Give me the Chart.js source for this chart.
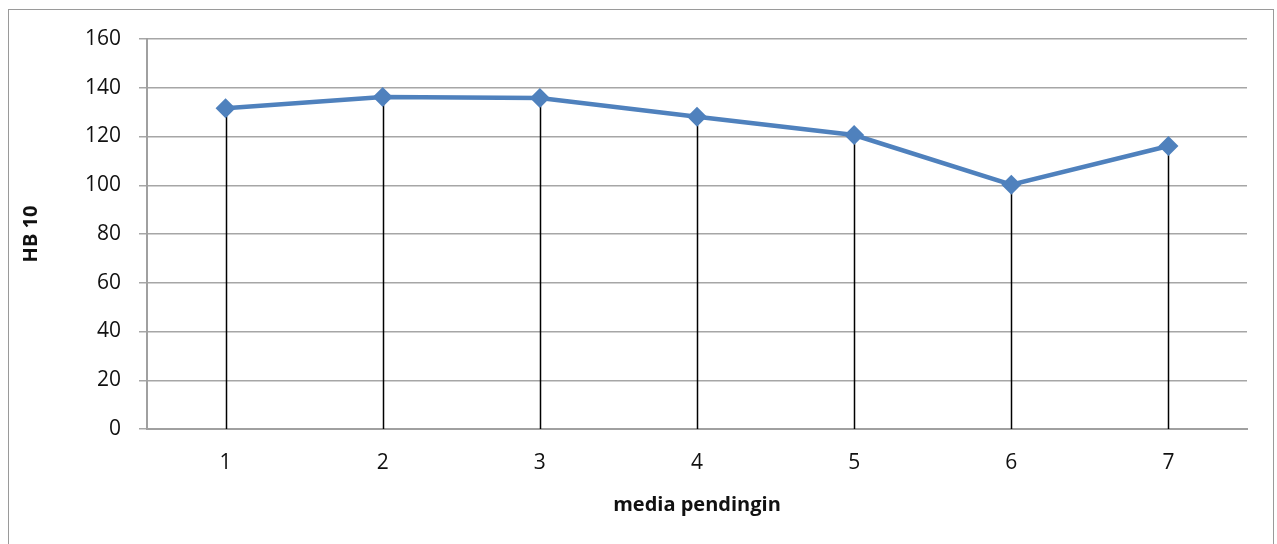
<!DOCTYPE html>
<html>
<head>
<meta charset="utf-8">
<script src="https://cdn.jsdelivr.net/npm/chart.js@4/dist/chart.umd.min.js"></script>
<style>
html,body{margin:0;padding:0;background:#fff;overflow:hidden;}
#wrap{position:absolute;left:0;top:0;width:1277px;height:544px;}
#frame{position:absolute;left:8px;top:9px;width:1266px;height:600px;border:1.5px solid #9a9a9a;box-sizing:border-box;}
canvas{position:absolute;left:0;top:0;}
</style>
</head>
<body>
<div id="wrap">
<div id="frame"></div>
<canvas id="c" width="1277" height="544"></canvas>
</div>
<script>
const categories = ['1','2','3','4','5','6','7'];
const hbValues = [131.6, 136.2, 135.8, 128.1, 120.6, 100.2, 116.1];
const yTicks = [0,20,40,60,80,100,120,140,160];
const yTitle = 'HB 10';
const xTitle = 'media pendingin';

const dropLines = {
  id:'dropLines',
  beforeDatasetsDraw(chart){
    const ctx = chart.ctx;
    const meta = chart.getDatasetMeta(0);
    const ys = chart.scales.y;
    ctx.save();
    ctx.strokeStyle = '#000';
    ctx.lineWidth = 1.5;
    meta.data.forEach(pt=>{
      ctx.beginPath();
      ctx.moveTo(Math.round(pt.x)+0.5, pt.y);
      ctx.lineTo(Math.round(pt.x)+0.5, ys.getPixelForValue(0));
      ctx.stroke();
    });
    ctx.restore();
  }
};

const font = {family:'"Open Sans", "Liberation Sans", sans-serif', size:21};
new Chart(document.getElementById('c'), {
  type:'line',
  data:{labels:categories, datasets:[{
    data:hbValues,
    borderColor:'#4F81BD',
    backgroundColor:'#4F81BD',
    borderWidth:4.5,
    pointStyle:'rectRot',
    pointRadius:10,
    pointHoverRadius:10,
    pointBorderWidth:0,
    tension:0
  }]},
  options:{
    responsive:false,
    animation:false,
    events:[],
    layout:{padding:{left:19,top:39,right:30,bottom:0}},
    plugins:{legend:{display:false},tooltip:{enabled:false}},
    scales:{
      x:{
        offset:true,
        grid:{display:false, drawTicks:false},
        border:{display:true,color:'#a0a0a0',width:2},
        ticks:{font:font,color:'#111',padding:21},
        title:{display:true,text:xTitle,font:{family:font.family,size:20,weight:'bold'},color:'#111',padding:{top:0,bottom:27}},
        afterFit(s){s.height = 115;}
      },
      y:{
        min:0,max:160,
        afterBuildTicks(s){s.ticks = yTicks.map(v=>({value:v}));},
        grid:{color:'#a6a6a6',lineWidth:1.5,tickLength:8,drawTicks:true},
        border:{display:true,color:'#a0a0a0',width:2},
        ticks:{font:font,color:'#111',padding:18},
        title:{display:true,text:yTitle,font:{family:font.family,size:20,weight:'bold'},color:'#111',padding:{top:0,bottom:0}},
        afterFit(s){s.width = 128;}
      }
    }
  },
  plugins:[dropLines]
});
</script>
</body>
</html>
